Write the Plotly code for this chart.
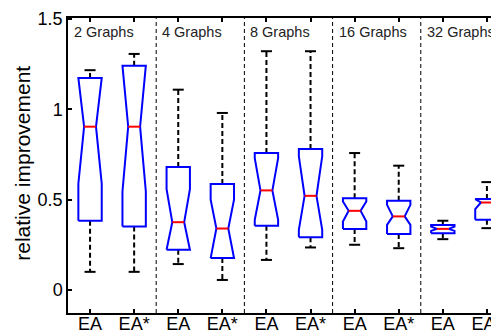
import plotly.graph_objects as go

# ---- data ----
positions = [1, 2, 3, 4, 5, 6, 7, 8, 9, 10]
tick_labels = ["EA", "EA*", "EA", "EA*", "EA", "EA*", "EA", "EA*", "EA", "EA*"]
group_labels = ["2 Graphs", "4 Graphs", "8 Graphs", "16 Graphs", "32 Graphs"]
group_starts = [0.5, 2.5, 4.5, 6.5, 8.5]
separators = [2.5, 4.5, 6.5, 8.5]

whisker_lo = [0.100, 0.100, 0.143, 0.055, 0.166, 0.235, 0.250, 0.231, 0.281, 0.342]
q1         = [0.383, 0.351, 0.222, 0.176, 0.355, 0.292, 0.337, 0.309, 0.314, 0.388]
notch_lo   = [0.588, 0.545, 0.222, 0.176, 0.388, 0.333, 0.379, 0.360, 0.327, 0.448]
median     = [0.904, 0.904, 0.375, 0.340, 0.551, 0.521, 0.438, 0.407, 0.338, 0.484]
notch_hi   = [1.174, 1.242, 0.558, 0.500, 0.730, 0.740, 0.490, 0.471, 0.351, 0.503]
q3         = [1.174, 1.242, 0.680, 0.586, 0.758, 0.780, 0.508, 0.494, 0.360, 0.503]
whisker_hi = [1.217, 1.307, 1.109, 0.980, 1.322, 1.322, 0.758, 0.688, 0.383, 0.597]

# ---- styling ----
BOX_HALF = 0.265
NOTCH_HALF = 0.135
CAP_HALF = 0.125
BLUE = "#0000FF"
RED = "#FF0000"
FONT = "Liberation Sans, Arial, sans-serif"

bx, by = [], []
mx, my = [], []
wx, wy = [], []
cx, cy = [], []
for p, wl, a, nl, m, nh, b, wh in zip(positions, whisker_lo, q1, notch_lo, median,
                                      notch_hi, q3, whisker_hi):
    L, R = p - BOX_HALF, p + BOX_HALF
    nL, nR = p - NOTCH_HALF, p + NOTCH_HALF
    bx += [L, L, nL, L, L, R, R, nR, R, R, L, None]
    by += [a, nl, m, nh, b, b, nh, m, nl, a, a, None]
    mx += [nL, nR, None]
    my += [m, m, None]
    wx += [p, p, None, p, p, None]
    wy += [b, wh, None, a, wl, None]
    cx += [p - CAP_HALF, p + CAP_HALF, None, p - CAP_HALF, p + CAP_HALF, None]
    cy += [wh, wh, None, wl, wl, None]

fig = go.Figure()
fig.add_trace(go.Scatter(x=wx, y=wy, mode="lines", hoverinfo="skip",
                         line=dict(color="black", width=2, dash="5px,3px")))
fig.add_trace(go.Scatter(x=cx, y=cy, mode="lines", hoverinfo="skip",
                         line=dict(color="black", width=2)))
fig.add_trace(go.Scatter(x=bx, y=by, mode="lines", hoverinfo="skip",
                         line=dict(color=BLUE, width=2)))
fig.add_trace(go.Scatter(x=mx, y=my, mode="lines", hoverinfo="skip",
                         line=dict(color=RED, width=2)))

for s in separators:
    fig.add_shape(type="line", xref="x", yref="paper", x0=s, x1=s, y0=0, y1=1,
                  line=dict(color="black", width=1, dash="4px,3px"))

for g, x0 in zip(group_labels, group_starts):
    fig.add_annotation(text=g, xref="x", yref="paper", x=x0, y=0.953,
                       xanchor="left", yanchor="middle", xshift=4, showarrow=False,
                       font=dict(family=FONT, size=14.5, color="#222222"))

fig.add_annotation(text="relative improvement", xref="paper", yref="paper",
                   x=0, y=0.506, xshift=-45, textangle=-90, showarrow=False,
                   xanchor="center", yanchor="middle",
                   font=dict(family=FONT, size=21, color="black"))

# the page body has an 8px margin, so the figure is made 8px smaller
fig.update_layout(
    width=491, height=328,
    margin=dict(l=60, r=0, t=10, b=23),
    paper_bgcolor="white", plot_bgcolor="white",
    showlegend=False,
    font=dict(family=FONT, color="black"),
)
fig.update_xaxes(
    range=[0.5, 10.274], tickvals=positions, ticktext=tick_labels,
    ticks="inside", ticklen=4, tickwidth=1.5, tickcolor="black",
    showline=True, linecolor="black", linewidth=1.5, mirror="ticks",
    showgrid=False, zeroline=False, automargin=False,
    ticklabelstandoff=-6, ticklabeloverflow="allow",
    tickfont=dict(family=FONT, size=18, color="black"),
)
fig.update_yaxes(
    range=[-0.128, 1.506], tickvals=[0, 0.5, 1, 1.5], ticktext=["0", "0.5", "1", "1.5"],
    ticks="inside", ticklen=4, tickwidth=1.5, tickcolor="black",
    showline=True, linecolor="black", linewidth=1.5, mirror=False,
    showgrid=False, zeroline=False, automargin=False,
    tickfont=dict(family=FONT, size=18, color="black"),
)

fig.write_html("out.html")
